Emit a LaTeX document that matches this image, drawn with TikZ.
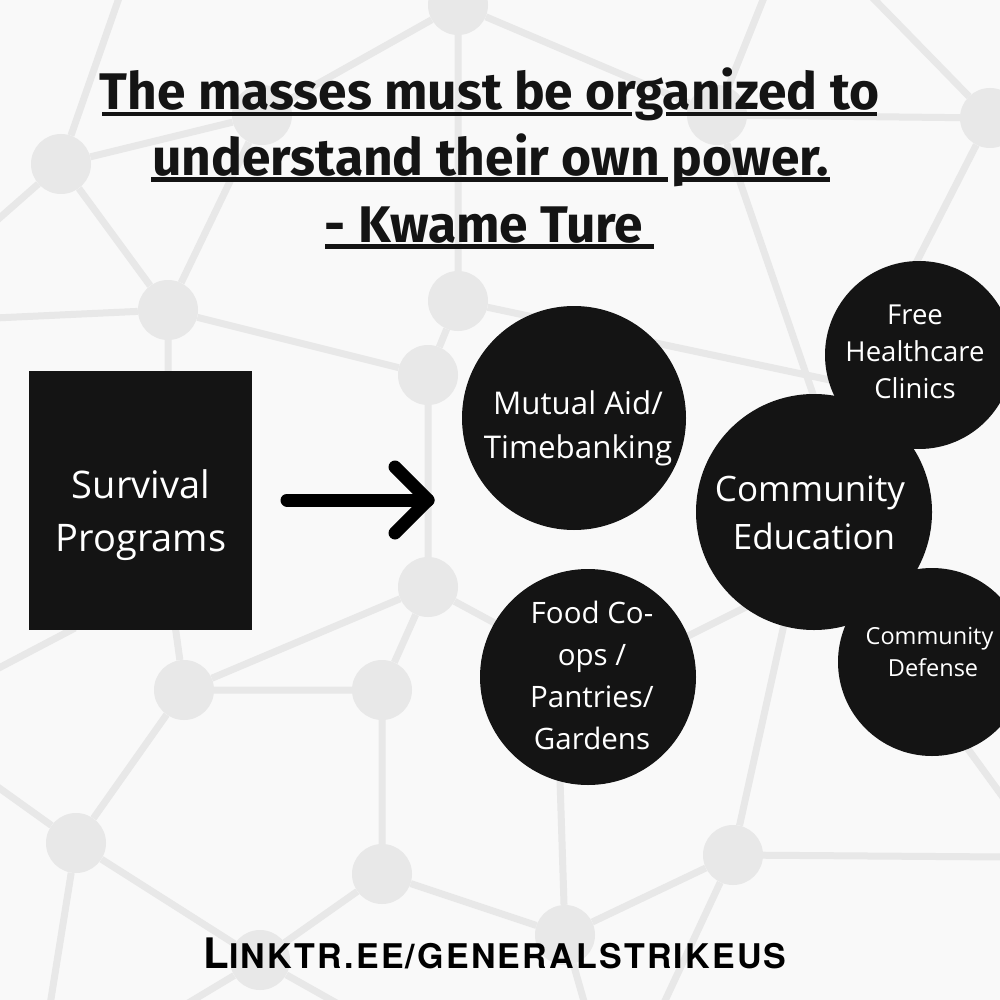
\documentclass[tikz,border=0pt]{standalone}
\usepackage{fontspec}
\setmainfont{Open Sans}
\newfontfamily\titlefont{Fira Sans}
\newfontfamily\footfont[LetterSpace=6.5]{TeX Gyre Heros}
\definecolor{pagebg}{HTML}{F9F9F9}
\definecolor{netgray}{HTML}{E8E8E8}
\definecolor{inkblack}{HTML}{141414}
\tikzset{
  netdot/.style={circle,fill=netgray,minimum size=60pt,inner sep=0pt},
  netline/.style={draw=netgray,line width=7pt},
  blob/.style={circle,fill=inkblack,inner sep=0pt},
  boxnode/.style={rectangle,fill=inkblack,inner sep=0pt},
  label/.style={text=white,align=center,inner sep=0pt},
  titletext/.style={font=\fontsize{51.5}{67}\selectfont\titlefont\bfseries,text=inkblack,align=center,inner sep=0pt,anchor=base},
  rule/.style={draw=inkblack,line width=4.5pt},
  arrowline/.style={draw=black,line width=13pt,line cap=round,line join=round},
}
\begin{document}
\begin{tikzpicture}[x=1pt,y=-1pt]
\clip (0,0) rectangle (1000,1000);
\fill[pagebg] (0,0) rectangle (1000,1000);
% network
\foreach \n/\x/\y in {T/458/5,A/61/164,B/262/115,C/717/115,D/990/118,E/168/310,F/458/301,G/428/375,H/428/587,I/184/690,J/382/690,K/76/843,L/382/874,M/565/935,N/733/855,O/260/960}
  \node[netdot] (\n) at (\x,\y) {};
\foreach \n/\x/\y in {p1/120/-5,p2/765/-5,p3/870/-5,p4/-5/222,p5/-5/318,p6/-5/670,p7/-5/785,p8/50/1005,p9/185/1005,p10/340/1005,p11/585/1005,p12/663/1005,p13/1005/857,p14/915/265,p15/830/380,p16/815/400,p17/168/375,p18/175/625,p19/75/628,p20/600/680,p21/750/605,p22/785/620,p23/560/780,p24/965/745,p25/1005/800}
  \coordinate (\n) at (\x,\y);
\draw[netline] (p1)--(A) (A)--(B) (B)--(T) (T)--(C) (T)--(F) (C)--(D) (p2)--(C) (p3)--(D)
  (D)--(p14) (A)--(p4) (A)--(E) (B)--(E) (C)--(p16) (E)--(p5) (E)--(G) (E)--(p17)
  (F)--(G) (F)--(p15) (G)--(H) (H)--(I) (H)--(J) (H)--(p20) (p20)--(p21) (I)--(p18) (I)--(J)
  (I)--(K) (p6)--(p19) (K)--(p7) (K)--(p8) (K)--(O) (O)--(L) (L)--(M) (M)--(N) (J)--(L)
  (p23)--(M) (N)--(p22) (N)--(p13) (N)--(p12) (M)--(p11) (O)--(p9) (O)--(p10) (p24)--(p25);
% title
\node[titletext] (t1) at (489.5,109.5) {The masses must be organized to};
\node[titletext] (t2) at (490.5,176) {understand their own power.};
\node[titletext] (t3) at (484,243) {- Kwame Ture};
\draw[rule] (102,114)--(632,114) (666,114)--(877,114);
\draw[rule] (151,179.5)--(668,179.5) (677,179.5)--(830,179.5);
\draw[rule] (325,246.5)--(654,246.5);
% program box
\node[boxnode,minimum width=223pt,minimum height=259pt] (sp) at (140.5,500) {};
\node[label,font=\fontsize{38}{53}\selectfont] (spt) at (141,515.5) {Survival\\Programs};
% circles
\node[blob,minimum size=224pt] (ma) at (574,418) {};
\node[blob,minimum size=216pt] (fc) at (588,677) {};
\node[blob,minimum size=188pt] (fh) at (919,355) {};
\node[blob,minimum size=236pt] (ce) at (814,512) {};
\node[blob,minimum size=188pt] (cd) at (932,662) {};
\node[label,font=\fontsize{31.3}{44}\selectfont] (mat) at (578,428) {Mutual Aid/\\Timebanking};
\node[label,font=\fontsize{29.5}{42}\selectfont] (fct) at (592,675) {Food Co-\\ops /\\Pantries/\\Gardens};
\node[label,font=\fontsize{27.5}{37}\selectfont] (fht) at (915,351.5) {Free\\Healthcare\\Clinics};
\node[label,font=\fontsize{35}{48}\selectfont] (cet) at (810,513) {Community\\\hspace*{8pt}Education};
\node[label,font=\fontsize{23.5}{32}\selectfont] (cdt) at (929.5,652) {Community\\\hspace*{7pt}Defense};
% arrow
\coordinate (as) at (287,500);
\coordinate (ae) at (428,500);
\coordinate (ah1) at (395,467);
\coordinate (ah2) at (395,533);
\draw[arrowline] (as)--(ae);
\draw[arrowline] (ah1)--(ae)--(ah2);
% footer
\node[font=\footfont\bfseries,text=black,inner sep=0pt,anchor=base] (ft) at (495,968)
  {\fontsize{42}{42}\selectfont L\fontsize{34}{34}\selectfont INKTR.EE/GENERALSTRIKEUS};
\end{tikzpicture}
\end{document}
